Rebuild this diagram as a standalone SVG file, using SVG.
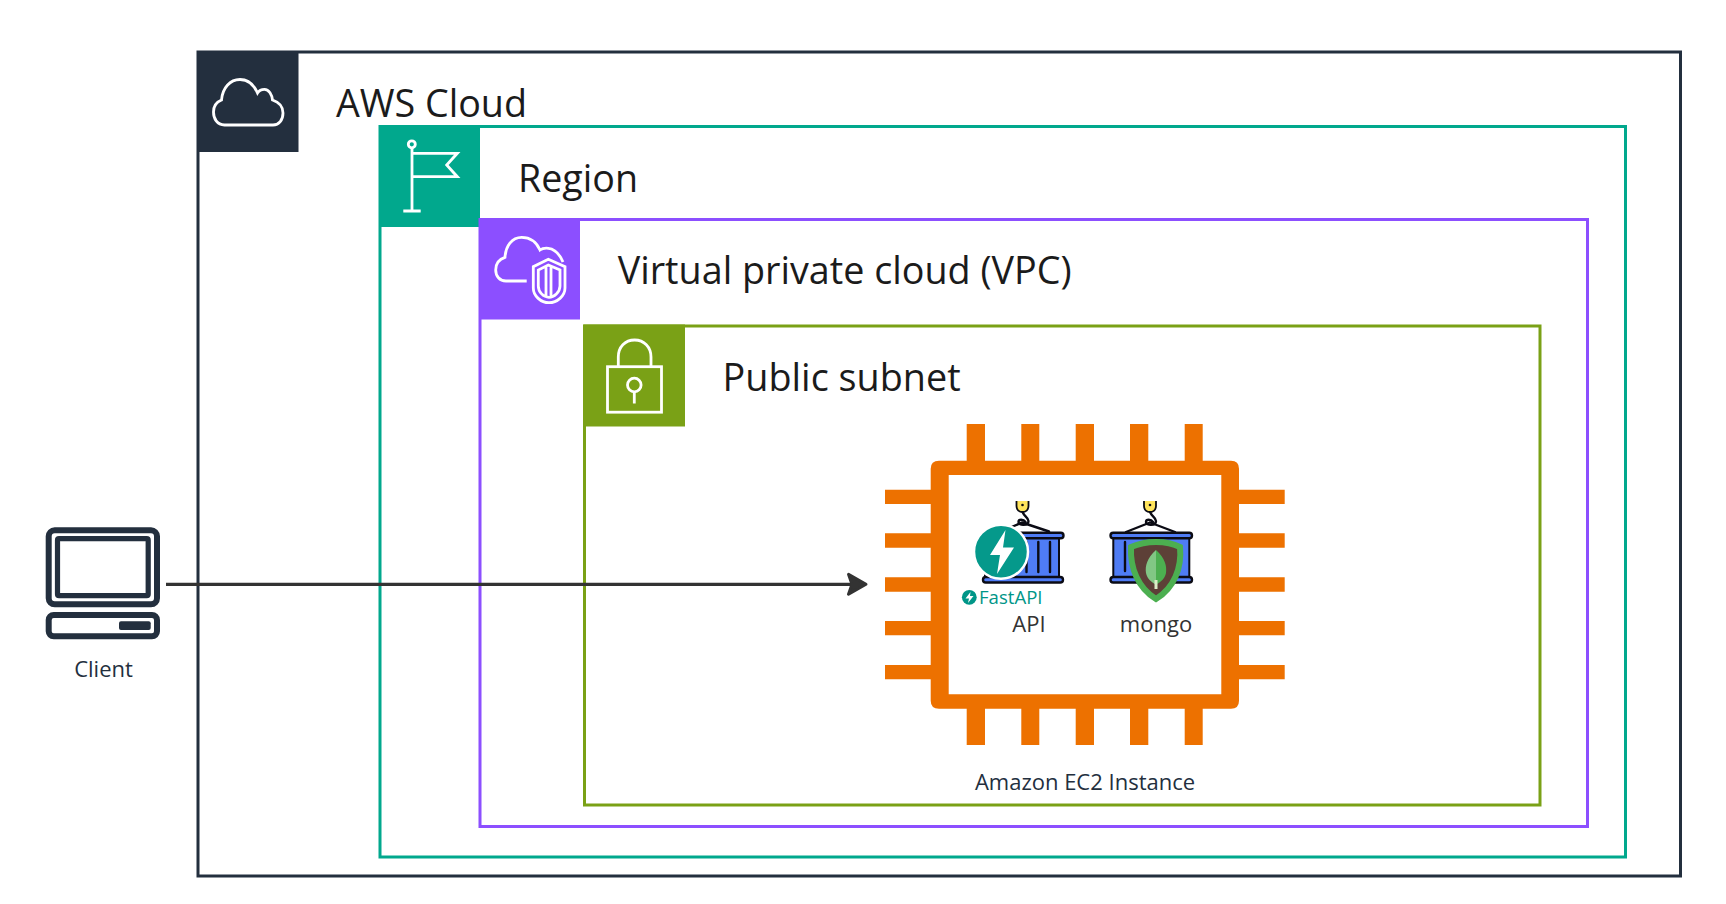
<svg xmlns="http://www.w3.org/2000/svg" width="1726" height="904" viewBox="0 0 1726 904">
<style>
text{font-family:"Open Sans","Noto Sans","Liberation Sans",sans-serif;fill:#232F3E}
.title{font-size:38px;fill:#1b1b1b}
.small{font-size:22px}
.box{fill:none;stroke-width:3}
.ico{fill:none;stroke:#fff;stroke-width:2.8}
.orange{fill:#ED7100}
.blue{fill:#4F7CF5}
.blk{fill:none;stroke:#0b0b14;stroke-width:2.4;stroke-linecap:round}
.bar{fill:#4F7CF5;stroke:#0b0b14;stroke-width:2.4}
</style>
<defs>
<marker id="head" markerUnits="userSpaceOnUse" markerWidth="28" markerHeight="32" viewBox="0 0 28 32" refX="18" refY="16" orient="auto">
<path d="M5.500 6 L23 16 L5.500 26 L9 16 Z" fill="#333" stroke="#333" stroke-width="3" stroke-linejoin="round"/>
</marker>
<g id="crane">
<path class="blk" d="M0 510 C-1 515 6 517 6 521 C6 526 -4 526 -4 522 C-4 519 1 519 3 522"/>
<path d="M-6 501 H6 V506 C6 514 -6 514 -6 506 Z" fill="#FFE45C"/>
<path d="M-6 501 V506 C-6 514 6 514 6 506 V501" fill="none" stroke="#0b0b14" stroke-width="1.800"/>
<circle cx="0" cy="505" r="1.300" fill="#0b0b14"/>
</g>
</defs>
<rect width="1726" height="904" fill="#fff"/>
<g id="aws-cloud">
<rect class="box" x="198" y="52" width="1482.500" height="824" stroke="#232F3E"/>
<rect x="197" y="51" width="101.500" height="101" fill="#232F3E"/>
<path class="ico" d="M224.500 125 C217 125 213.500 118.500 213.500 112 C213.500 106 216.500 102 221.500 100 C222.500 88 230 79.500 240 79.500 C248 79.500 254 85 257.500 93 C259 90.500 261.500 89.300 264.500 89.300 C269 89.300 272 95 272.500 100 C278.500 102 283 106 283 113 C283 120 279 125 273 125 Z"/>
<text class="title" x="336" y="116.500" textLength="191" lengthAdjust="spacingAndGlyphs">AWS Cloud</text>
</g>
<g id="region">
<rect class="box" x="380" y="126.500" width="1245.500" height="730.500" stroke="#01A88D"/>
<rect x="379" y="125" width="101" height="102" fill="#01A88D"/>
<circle class="ico" cx="411.800" cy="144.300" r="3.500"/>
<path class="ico" d="M412 148 V211 M403.300 211 H420.700 M412 153.300 H457.300 L446.700 165 L457.300 176.700 H412"/>
<text class="title" x="518" y="191.500" textLength="120" lengthAdjust="spacingAndGlyphs">Region</text>
</g>
<g id="vpc">
<rect class="box" x="480" y="219.500" width="1107.500" height="607" stroke="#8C4FFF"/>
<rect x="479" y="218.500" width="101" height="101" fill="#8C4FFF"/>
<path class="ico" d="M526.700 281 H506 C499.500 281 495.700 276 495.700 270 C495.700 263.500 499.500 259 505 257.300 C505.500 246 512 237.300 521.700 237.300 C530 237.300 536.500 242 540 250 C542 248.500 545 248 548.300 248.300 C555 249 560 255 563 262"/>
<path class="ico" d="M548.300 259.300 L565 266.700 V288 C565 296 557 302.700 549 302.700 C541 302.700 533.300 296 533.300 288 V266.700 Z"/>
<path class="ico" stroke-width="2.200" d="M548.300 265 L560 270 V286 C560 292 554 297.300 549 297.300 C543.500 297.300 538.300 292 538.300 286 V270 Z M546 267 V296 M551 267 V296"/>
<text class="title" x="617.700" y="284" textLength="454" lengthAdjust="spacingAndGlyphs">Virtual private cloud (VPC)</text>
</g>
<g id="public-subnet">
<rect class="box" x="584.500" y="326" width="955.500" height="479" stroke="#7AA116"/>
<rect x="583.500" y="324.500" width="101.500" height="102" fill="#7AA116"/>
<path class="ico" d="M618.300 366 V357 C618.300 347 625 340 634.600 340 C644 340 651 347 651 357 V366"/>
<rect class="ico" x="607.500" y="366.700" width="54" height="45.500"/>
<circle class="ico" cx="634.300" cy="385" r="6.800"/>
<path class="ico" d="M634.300 392 V403.500"/>
<text class="title" x="722.600" y="391" textLength="238" lengthAdjust="spacingAndGlyphs">Public subnet</text>
</g>
<g id="ec2-instance">
<path class="orange" fill-rule="evenodd" d="M939 460.700 H1231 Q1239 460.700 1239 468.700 V700.700 Q1239 708.700 1231 708.700 H939 Q930.700 708.700 930.700 700.700 V468.700 Q930.700 460.700 939 460.700 Z M948.700 475 V694.300 H1221.300 V475 Z"/>
<path class="orange" d="M966.700 424 H985 V461 H966.700 Z M1021.300 424 H1039.300 V461 H1021.300 Z M1075.700 424 H1094 V461 H1075.700 Z M1130 424 H1148.300 V461 H1130 Z M1184.700 424 H1202.700 V461 H1184.700 Z
M966.700 708 H985 V745 H966.700 Z M1021.300 708 H1039.300 V745 H1021.300 Z M1075.700 708 H1094 V745 H1075.700 Z M1130 708 H1148.300 V745 H1130 Z M1184.700 708 H1202.700 V745 H1184.700 Z
M885 489.700 H931 V504 H885 Z M885 533.300 H931 V547.700 H885 Z M885 577.300 H931 V591.700 H885 Z M885 621 H931 V635.300 H885 Z M885 665 H931 V679.300 H885 Z
M1239 489.700 H1284.700 V504 H1239 Z M1239 533.300 H1284.700 V547.700 H1239 Z M1239 577.300 H1284.700 V591.700 H1239 Z M1239 621 H1284.700 V635.300 H1239 Z M1239 665 H1284.700 V679.300 H1239 Z"/>
<text class="small" x="1085" y="790" text-anchor="middle">Amazon EC2 Instance</text>
</g>
<g id="api">
<use href="#crane" x="1022.500"/>
<path class="blk" d="M1022 522.500 L1049 531.500 M1022 522.500 L1000 532"/>
<rect class="blue" x="985" y="537" width="74" height="41" stroke="#0b0b14" stroke-width="2"/>
<path class="blk" d="M1038.300 542 V572 M1050 542 V572 M1026.500 542 V572"/>
<rect class="bar" x="986" y="532.800" width="77.500" height="5.500" rx="2.700"/>
<rect class="bar" x="983" y="577" width="80" height="5.500" rx="2.700"/>
<circle cx="1001" cy="551.700" r="27" fill="#05998B" stroke="#fff" stroke-width="2.500"/>
<path d="M1005.500 530 L990 555 H1000 L997 574 L1014 547.500 H1003 Z" fill="#fff"/>
<circle cx="969.300" cy="597.300" r="7.400" fill="#009688"/>
<path d="M970.500 592 L965.500 598.500 H969 L968 603 L973.500 596 H970 Z" fill="#fff"/>
<text x="979" y="604" font-size="18" style="fill:#009688" textLength="63.500" lengthAdjust="spacingAndGlyphs">FastAPI</text>
<text class="small" x="1029" y="632" text-anchor="middle" style="fill:#333">API</text>
</g>
<g id="mongo">
<use href="#crane" x="1150"/>
<path class="blk" d="M1150 522.500 L1126 532 M1150 522.500 L1175 532"/>
<rect class="blue" x="1113.300" y="537" width="76" height="41" stroke="#0b0b14" stroke-width="2"/>
<path class="blk" d="M1125 542 V571"/>
<rect class="bar" x="1110.500" y="532.800" width="81.500" height="5.500" rx="2.700"/>
<rect class="bar" x="1110.500" y="577" width="81.500" height="5.500" rx="2.700"/>
<path d="M1156 542 C1165 542 1174 544 1180 547 C1182 568 1174 588 1156 599 C1138 588 1130 568 1131 547 C1138 544 1147 542 1156 542 Z" fill="#5D4037" stroke="#4CAF50" stroke-width="6"/>
<path d="M1156 550 C1147 558 1145 566 1146 573 C1147 579 1152 582 1156 585 Z" fill="#81C784"/>
<path d="M1156 550 C1165 558 1167 566 1166 573 C1165 579 1160 582 1156 585 Z" fill="#4CAF50"/>
<rect x="1154.500" y="580" width="3" height="9" fill="#DCEDC8"/>
<text class="small" x="1161" y="632" text-anchor="middle" style="fill:#333" transform="translate(-5 0)">mongo</text>
</g>
<g id="client">
<rect x="48.700" y="530.300" width="108.300" height="74" rx="6" fill="none" stroke="#232F3E" stroke-width="6"/>
<rect x="57.500" y="538.700" width="90.700" height="57" rx="1.500" fill="none" stroke="#232F3E" stroke-width="5.200"/>
<rect x="48.700" y="615" width="108.300" height="21.300" rx="5" fill="none" stroke="#232F3E" stroke-width="6"/>
<rect x="119" y="621.300" width="31.700" height="8.700" rx="2" fill="#232F3E"/>
<text class="small" x="103.500" y="676.500" text-anchor="middle">Client</text>
</g>
<g id="connectors">
<line x1="166" y1="584.300" x2="861" y2="584.300" stroke="#333" stroke-width="3.300" marker-end="url(#head)"/>
</g>
</svg>
